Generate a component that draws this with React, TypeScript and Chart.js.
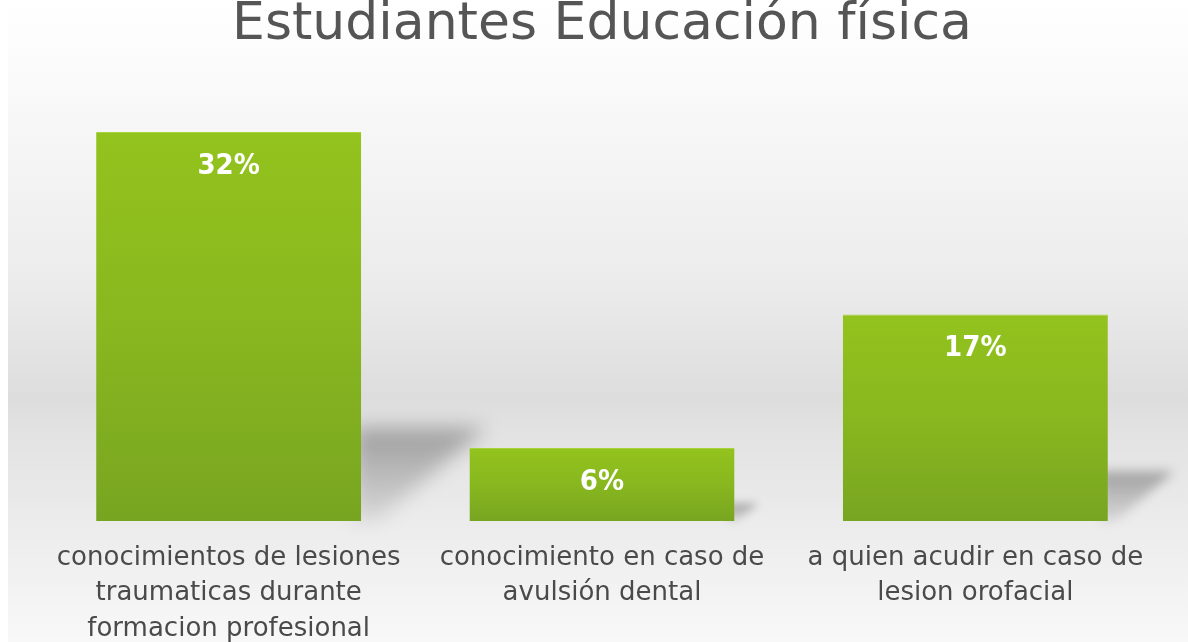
import React, { useEffect, useRef } from "react";
import { Chart, registerables } from "chart.js";

Chart.register(...registerables);

const TITLE = "Estudiantes Educación física";
const categories: string[][] = [
  ["conocimientos de lesiones", "traumaticas durante", "formacion profesional"],
  ["conocimiento en caso de", "avulsión dental"],
  ["a quien acudir en caso de", "lesion orofacial"],
];
const values: number[] = [32, 6, 17];
const valueLabels: string[] = ["32%", "6%", "17%"];
const yMin = 0;
const yMax = 35;

const backgroundPlugin = {
  id: "bgGradient",
  beforeDraw(chart: any) {
    const { ctx, width, height } = chart;
    ctx.save();
    ctx.fillStyle = "#ffffff";
    ctx.fillRect(0, 0, width, height);
    const g = ctx.createLinearGradient(0, 0, 0, height);
    g.addColorStop(0, "#ffffff");
    g.addColorStop(0.15, "#f9f9f9");
    g.addColorStop(0.45, "#ebebeb");
    g.addColorStop(0.62, "#dddddd");
    g.addColorStop(0.67, "#e2e2e2");
    g.addColorStop(0.85, "#eeeeee");
    g.addColorStop(1, "#f8f8f8");
    ctx.fillStyle = g;
    ctx.fillRect(8, 0, width - 8, height);
    ctx.restore();
  },
};

const shadowPlugin = {
  id: "barShadow",
  beforeDatasetsDraw(chart: any) {
    const { ctx } = chart;
    const meta = chart.getDatasetMeta(0);
    meta.data.forEach((bar: any) => {
      const { x, y, base, width } = bar.getProps(["x", "y", "base", "width"], true);
      const h = base - y;
      if (!Number.isFinite(h) || h <= 0) return;
      const right = x + width / 2;
      const sh = h * 0.24;
      const sw = h * 0.32;
      ctx.save();
      ctx.filter = `blur(${Math.max(4, h * 0.025)}px)`;
      const g = ctx.createLinearGradient(0, base - sh, 0, base);
      g.addColorStop(0, "rgba(0,0,0,0.30)");
      g.addColorStop(1, "rgba(0,0,0,0.08)");
      ctx.fillStyle = g;
      ctx.beginPath();
      ctx.moveTo(right - 8, base - sh);
      ctx.lineTo(right + sw, base - sh);
      ctx.lineTo(right + sw * 0.12, base);
      ctx.lineTo(right - 8, base);
      ctx.closePath();
      ctx.fill();
      ctx.restore();
    });
  },
};

const valueLabelPlugin = {
  id: "valueLabels",
  afterDatasetsDraw(chart: any) {
    const { ctx } = chart;
    const meta = chart.getDatasetMeta(0);
    ctx.save();
    ctx.fillStyle = "#ffffff";
    ctx.font = "bold 29px 'DejaVu Sans Condensed'";
    ctx.textAlign = "center";
    ctx.textBaseline = "middle";
    meta.data.forEach((bar: any, i: number) => {
      const { x, y } = bar.getProps(["x", "y"], true);
      ctx.fillText(valueLabels[i], x, y + 34);
    });
    ctx.restore();
  },
};

export default function App() {
  const canvasRef = useRef<HTMLCanvasElement | null>(null);

  useEffect(() => {
    if (!canvasRef.current) return;
    const chart = new Chart(canvasRef.current, {
      type: "bar",
      data: {
        labels: categories,
        datasets: [
          {
            data: values,
            backgroundColor: (c: any) => {
              const ch = c.chart;
              const ys = ch.scales?.y;
              if (!ys || typeof c.raw !== "number") return "#88b41f";
              const top = ys.getPixelForValue(c.raw);
              const bottom = ys.getPixelForValue(0);
              if (!Number.isFinite(top) || !Number.isFinite(bottom) || top === bottom) return "#88b41f";
              const g = ch.ctx.createLinearGradient(0, top, 0, bottom);
              g.addColorStop(0, "#93c31d");
              g.addColorStop(0.5, "#88b71f");
              g.addColorStop(1, "#78a521");
              return g;
            },
            borderColor: "#a9d23c",
            borderWidth: { top: 1, left: 0, right: 0, bottom: 0 },
            borderSkipped: false,
            barPercentage: 0.71,
            categoryPercentage: 1,
          },
        ],
      },
      options: {
        responsive: false,
        animation: false,
        layout: { padding: { left: 42, right: 26, top: 0, bottom: 0 } },
        plugins: {
          legend: { display: false },
          tooltip: { enabled: false },
          title: {
            display: true,
            text: TITLE,
            color: "#555555",
            font: { family: "'DejaVu Sans'", size: 52, weight: "normal", lineHeight: 0.8 },
            padding: { top: 5, bottom: 49 },
          },
        },
        scales: {
          x: {
            grid: { display: false, drawTicks: false },
            border: { display: false },
            ticks: {
              color: "#4a4a4a",
              font: { family: "'DejaVu Sans'", size: 26, lineHeight: 1.35 },
              padding: 20,
              maxRotation: 0,
              autoSkip: false,
            },
            afterFit: (scale: any) => {
              scale.height = 121;
            },
          },
          y: {
            display: false,
            min: yMin,
            max: yMax,
          },
        },
      },
      plugins: [backgroundPlugin, shadowPlugin, valueLabelPlugin],
    });
    return () => chart.destroy();
  }, []);

  return (
    <div style={{ position: "fixed", left: 0, top: 0, width: 1188, height: 642 }}>
      <canvas ref={canvasRef} width={1188} height={642} style={{ display: "block" }} />
    </div>
  );
}
